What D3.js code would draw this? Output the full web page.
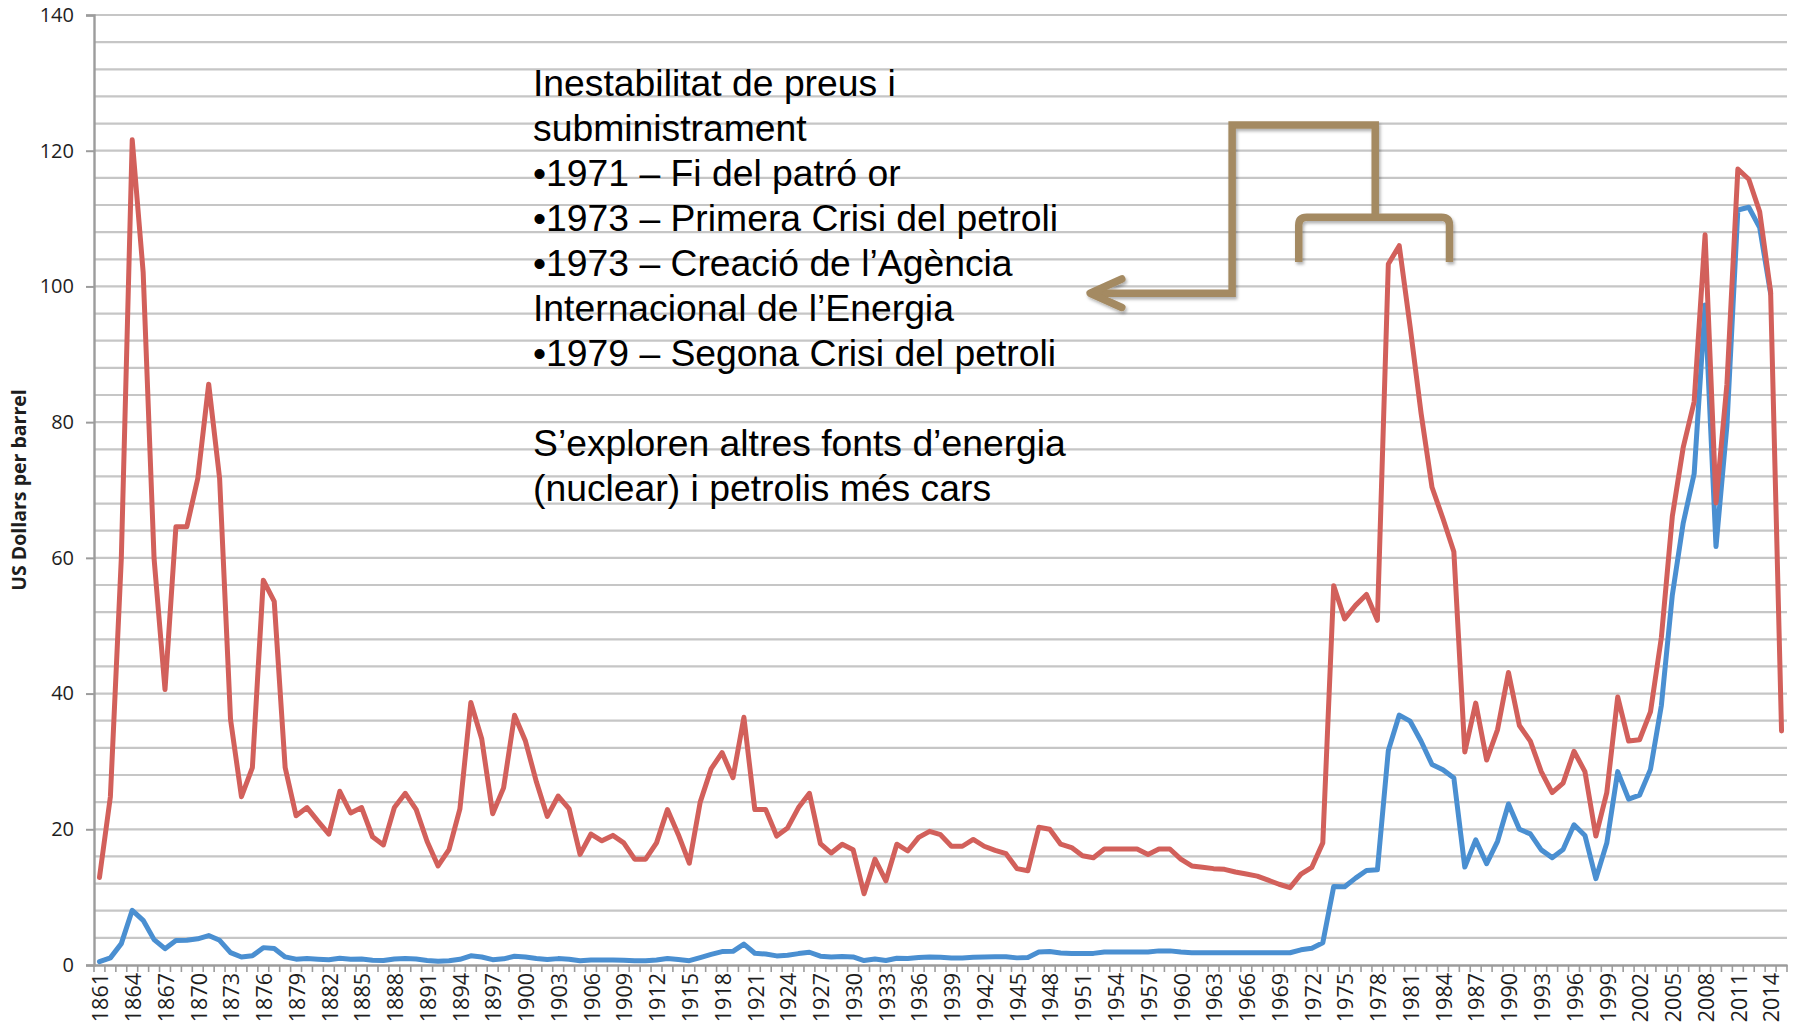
<!DOCTYPE html>
<html>
<head>
<meta charset="utf-8">
<script src="https://cdn.jsdelivr.net/npm/d3@7"></script>
<style>
  html, body { margin: 0; padding: 0; background: #ffffff; }
  svg { display: block; }
</style>
</head>
<body>
<svg id="chart" width="1804" height="1029"></svg>
<script>
// ---------------- DATA ----------------
const years = [
  1861,1862,1863,1864,1865,1866,1867,1868,1869,1870,
  1871,1872,1873,1874,1875,1876,1877,1878,1879,1880,
  1881,1882,1883,1884,1885,1886,1887,1888,1889,1890,
  1891,1892,1893,1894,1895,1896,1897,1898,1899,1900,
  1901,1902,1903,1904,1905,1906,1907,1908,1909,1910,
  1911,1912,1913,1914,1915,1916,1917,1918,1919,1920,
  1921,1922,1923,1924,1925,1926,1927,1928,1929,1930,
  1931,1932,1933,1934,1935,1936,1937,1938,1939,1940,
  1941,1942,1943,1944,1945,1946,1947,1948,1949,1950,
  1951,1952,1953,1954,1955,1956,1957,1958,1959,1960,
  1961,1962,1963,1964,1965,1966,1967,1968,1969,1970,
  1971,1972,1973,1974,1975,1976,1977,1978,1979,1980,
  1981,1982,1983,1984,1985,1986,1987,1988,1989,1990,
  1991,1992,1993,1994,1995,1996,1997,1998,1999,2000,
  2001,2002,2003,2004,2005,2006,2007,2008,2009,2010,
  2011,2012,2013,2014,2015
];

// Price in constant (2014) dollars – red line
const realPrice = [
  12.9,24.8,59.9,121.6,102.1,59.9,40.6,64.6,64.6,71.7,
  85.6,71.7,36.2,24.8,29.1,56.7,53.6,29.1,22.0,23.2,
  21.2,19.3,25.6,22.4,23.2,18.9,17.7,23.2,25.3,22.9,
  18.2,14.6,17.0,23.0,38.7,33.3,22.3,26.1,36.8,33.0,
  27.0,21.9,24.9,23.0,16.3,19.3,18.3,19.1,18.0,15.6,
  15.6,18.0,22.9,19.2,15.0,24.0,28.9,31.3,27.6,36.5,
  22.9,22.9,19.0,20.2,23.2,25.3,17.9,16.5,17.8,17.0,
  10.5,15.6,12.4,17.8,16.8,18.8,19.7,19.2,17.5,17.5,
  18.5,17.5,16.9,16.4,14.2,13.9,20.3,20.0,17.8,17.3,
  16.1,15.8,17.1,17.1,17.1,17.1,16.3,17.1,17.1,15.6,
  14.6,14.4,14.2,14.1,13.7,13.4,13.1,12.5,11.9,11.4,
  13.4,14.4,18.0,55.9,51.0,53.0,54.6,50.8,103.3,106.0,
  94.0,81.3,70.4,65.8,60.9,31.4,38.6,30.2,34.7,43.1,
  35.3,33.0,28.5,25.4,26.8,31.5,28.5,19.0,25.4,39.5,
  33.0,33.2,37.3,48.3,66.1,76.3,83.0,107.6,68.1,85.6,
  117.3,115.8,111.0,99.2,34.5
];

// Price in money of the day – blue line (no value for the last year)
const nominalPrice = [
  0.49,1.05,3.15,8.06,6.59,3.74,2.41,3.62,3.64,3.86,
  4.34,3.64,1.83,1.17,1.35,2.56,2.42,1.19,0.86,0.95,
  0.86,0.78,1.00,0.84,0.88,0.71,0.67,0.88,0.94,0.87,
  0.67,0.56,0.64,0.84,1.36,1.18,0.79,0.91,1.29,1.19,
  0.96,0.80,0.94,0.86,0.62,0.73,0.72,0.72,0.70,0.61,
  0.61,0.74,0.95,0.81,0.64,1.10,1.56,1.98,2.01,3.07,
  1.73,1.61,1.34,1.43,1.68,1.88,1.30,1.17,1.27,1.19,
  0.65,0.87,0.67,1.00,0.97,1.09,1.18,1.13,1.02,1.02,
  1.14,1.19,1.20,1.21,1.05,1.12,1.90,1.99,1.78,1.71,
  1.71,1.71,1.93,1.93,1.93,1.93,1.90,2.08,2.08,1.90,
  1.80,1.80,1.80,1.80,1.80,1.80,1.80,1.80,1.80,1.80,
  2.24,2.48,3.29,11.58,11.53,12.80,13.92,14.02,31.61,36.83,
  35.93,32.97,29.55,28.78,27.56,14.43,18.44,14.92,18.23,23.73,
  20.00,19.32,16.97,15.82,17.02,20.67,19.09,12.72,17.97,28.50,
  24.44,25.02,28.83,38.27,54.52,65.14,72.39,97.26,61.67,79.50,
  111.26,111.67,108.66,98.95,null
];

const yTicks = [0, 20, 40, 60, 80, 100, 120, 140];
const gridStep = 4;            // minor horizontal gridlines
const labelEvery = 3;          // x labels every 3 years
const yTitle = "US Dollars per barrel";

const noteLines = [
  "Inestabilitat de preus i",
  "subministrament",
  "\u20221971 \u2013 Fi del patr\u00f3 or",
  "\u20221973 \u2013 Primera Crisi del petroli",
  "\u20221973 \u2013 Creaci\u00f3 de l\u2019Ag\u00e8ncia",
  "Internacional de l\u2019Energia",
  "\u20221979 \u2013 Segona Crisi del petroli",
  "",
  "S\u2019exploren altres fonts d\u2019energia",
  "(nuclear) i petrolis m\u00e9s cars"
];

// ---------------- LAYOUT ----------------
const pL = 94, pR = 1787, pT = 15, pB = 965;
const svg = d3.select("#chart");
svg.append("rect").attr("width", 1804).attr("height", 1029).attr("fill", "#fff");

const x = d3.scaleBand().domain(years).range([pL, pR]).paddingInner(0).paddingOuter(0);
const bw = x.bandwidth();
const cx = d => x(d) + bw / 2;
const y = d3.scaleLinear().domain([0, 140]).range([pB, pT]);
// continuous helper for annotation placement in data space
const xl = d3.scaleLinear().domain([years[0] - 0.5, years[years.length - 1] + 0.5]).range([pL, pR]);

const FONT = "'Open Sans', 'Noto Sans', sans-serif";

// gridlines
const grid = svg.append("g");
d3.range(gridStep, 140 + 0.001, gridStep).forEach(v => {
  grid.append("line")
    .attr("x1", pL).attr("x2", pR)
    .attr("y1", y(v)).attr("y2", y(v))
    .attr("stroke", "#c6c6c6").attr("stroke-width", 2.2);
});

// y axis
const yAxis = svg.append("g").attr("transform", `translate(${pL},0)`)
  .call(d3.axisLeft(y).tickValues(yTicks).tickSize(8).tickPadding(12).tickFormat(d3.format("d")));
yAxis.select(".domain").attr("stroke", "#9c9c9c").attr("stroke-width", 2.4);
yAxis.selectAll(".tick line").attr("stroke", "#9c9c9c").attr("stroke-width", 2);
yAxis.selectAll(".tick text").attr("font-family", FONT).attr("font-size", 20).attr("fill", "#1e1e1e");

// x axis
const xAxis = svg.append("g").attr("transform", `translate(0,${pB})`)
  .call(d3.axisBottom(x).tickValues(years.filter((d, i) => i % labelEvery === 0)).tickSize(0).tickPadding(0));
xAxis.select(".domain").attr("stroke", "#9c9c9c").attr("stroke-width", 2.4);
xAxis.selectAll(".tick text")
  .attr("font-family", FONT).attr("font-size", 21.5).attr("fill", "#1e1e1e")
  .attr("text-anchor", "end")
  .attr("transform", "translate(1,8) rotate(-90)")
  .attr("x", 0).attr("y", 0).attr("dy", "0.36em");
// minor ticks at category boundaries
const bounds = years.map(d => x(d)).concat([pR]);
svg.append("g").selectAll("line").data(bounds).join("line")
  .attr("x1", d => d).attr("x2", d => d)
  .attr("y1", pB).attr("y2", pB + 7)
  .attr("stroke", "#9c9c9c").attr("stroke-width", 1.6);

// y title
svg.append("text")
  .attr("transform", `translate(19,${(pT + pB) / 2}) rotate(-90)`)
  .attr("text-anchor", "middle").attr("dy", "0.35em")
  .attr("font-family", FONT).attr("font-weight", "bold").attr("font-size", 19.5)
  .attr("fill", "#1e1e1e")
  .text(yTitle);

// lines
const lineGen = d3.line()
  .defined(d => d.v !== null)
  .x(d => cx(d.year)).y(d => y(d.v));

const blueData = years.map((yr, i) => ({ year: yr, v: nominalPrice[i] }));
const redData = years.map((yr, i) => ({ year: yr, v: realPrice[i] }));

svg.append("path").datum(blueData)
  .attr("d", lineGen).attr("fill", "none")
  .attr("stroke", "#4a8fd1").attr("stroke-width", 5)
  .attr("stroke-linejoin", "round").attr("stroke-linecap", "round");

svg.append("path").datum(redData)
  .attr("d", lineGen).attr("fill", "none")
  .attr("stroke", "#d2605b").attr("stroke-width", 5)
  .attr("stroke-linejoin", "round").attr("stroke-linecap", "round");

// ---------------- ANNOTATION ----------------
const defs = svg.append("defs");
const f = defs.append("filter").attr("id", "shadow").attr("x", "-20%").attr("y", "-20%").attr("width", "140%").attr("height", "140%");
f.append("feDropShadow").attr("dx", 1.5).attr("dy", 2.5).attr("stdDeviation", 1.6)
  .attr("flood-color", "#000").attr("flood-opacity", 0.3);

const BROWN = "#a48a62";
const ann = svg.append("g").attr("filter", "url(#shadow)")
  .attr("fill", "none").attr("stroke", BROWN).attr("stroke-width", 7.5);

// connector: from bracket up, across, down-left to arrow
ann.append("path").attr("d", [
  "M", xl(1977.8), y(110.2),
  "V", y(123.8),
  "H", xl(1964.7),
  "V", y(99.0),
  "H", xl(1951.9)
].join(" ")).attr("stroke-linejoin", "miter");

// arrow head
ann.append("path").attr("d", [
  "M", xl(1954.6), y(101.1),
  "L", xl(1951.7), y(99.0),
  "L", xl(1954.6), y(96.9)
].join(" ")).attr("stroke-linecap", "round").attr("stroke-linejoin", "round");

// bracket over the 1973-1985 period
const bL = xl(1970.8), bR = xl(1984.6), bT = y(110.2), bB = y(103.6), rr = 8;
ann.append("path").attr("d", [
  "M", bL, bB,
  "V", bT + rr,
  "Q", bL, bT, bL + rr, bT,
  "H", bR - rr,
  "Q", bR, bT, bR, bT + rr,
  "V", bB
].join(" "));

// text block
const note = svg.append("text")
  .attr("font-family", "'Liberation Sans', Arial, sans-serif")
  .attr("font-size", 37.3).attr("fill", "#000");
noteLines.forEach((t, i) => {
  note.append("tspan").attr("x", 533).attr("y", 96 + i * 45).text(t);
});
</script>
</body>
</html>
